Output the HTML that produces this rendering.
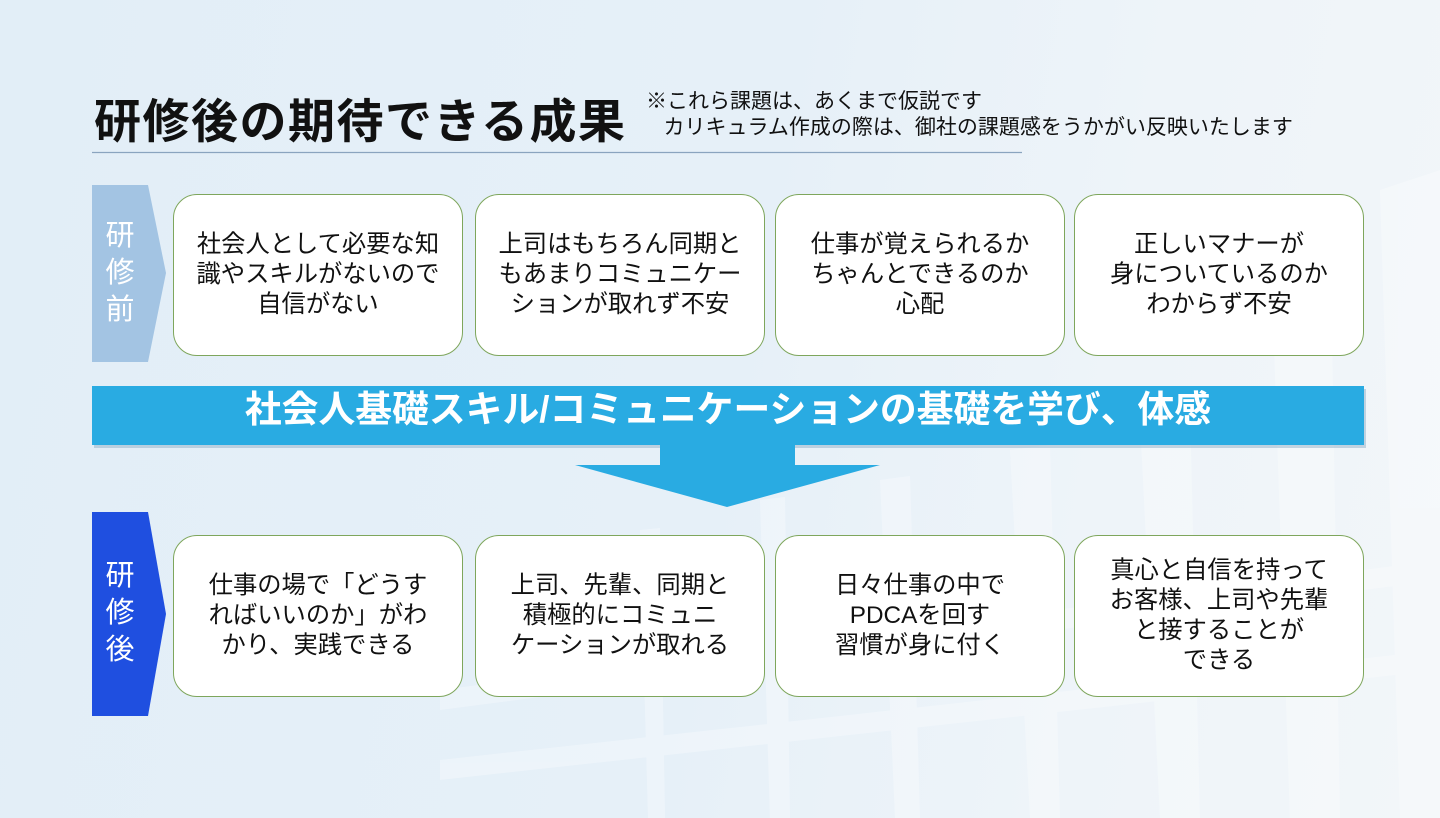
<!DOCTYPE html>
<html><head><meta charset="utf-8"><style>
*{margin:0;padding:0;box-sizing:border-box}
body{width:1440px;height:818px;overflow:hidden;position:relative;font-family:"Liberation Sans","Noto Sans CJK JP",sans-serif;background:linear-gradient(100deg,#e2eef7 0%,#e6f0f8 50%,#eef4f9 75%,#f2f6f9 100%)}
.abs{position:absolute}
.box{position:absolute;width:290px;height:162px;border:1.5px solid #7ea65c;border-radius:24px;background:#fff;display:flex;align-items:center;justify-content:center;text-align:center;font-size:24.3px;line-height:30px;color:#111}
.lab{position:absolute;color:#fff;font-size:29px;line-height:37px;width:58px;text-align:center}
</style></head><body>
<svg class="abs" style="left:0;top:0" width="1440" height="818">
 <g fill="#ffffff" opacity="0.3">
  <polygon points="1380,190 1440,170 1440,818 1400,818"/>
  <polygon points="1270,230 1330,215 1340,818 1290,818"/>
  <polygon points="1140,420 1190,410 1200,818 1160,818"/>
  <polygon points="1010,450 1050,445 1060,818 1030,818"/>
  <polygon points="880,480 910,476 920,818 895,818"/>
  <polygon points="760,500 785,497 790,818 770,818"/>
  <polygon points="640,530 660,528 665,818 648,818"/>
  <polygon points="440,690 1440,560 1440,580 440,710"/>
  <polygon points="440,760 1440,650 1440,670 440,780"/>
 </g>
 <line x1="92" y1="152.5" x2="1022" y2="152.5" stroke="#8aa4bf" stroke-width="1.2"/>
 <polygon points="92,185 148,185 166,273 148,362 92,362" fill="#a3c4e3"/>
 <polygon points="92,512 148,512 166,614 148,716 92,716" fill="#1f4fe0"/>
 <rect x="94" y="389" width="1272" height="59" fill="#8fb0c8" opacity="0.5"/>
 <rect x="92" y="386" width="1272" height="59" fill="#29abe2"/>
 <polygon points="660,445 795,445 795,465 880,465 727,507 575,465 660,465" fill="#29abe2"/>
</svg>
<div class="abs" style="left:94px;top:83px;font-size:47px;font-weight:bold;color:#111;letter-spacing:1.5px;white-space:nowrap">研修後の期待できる成果</div>
<div class="abs" style="left:646px;top:89px;font-size:21px;line-height:26px;color:#111;white-space:nowrap">※これら課題は、あくまで仮説です<br>&nbsp;&nbsp;&nbsp;カリキュラム作成の際は、御社の課題感をうかがい反映いたします</div>
<div class="lab" style="left:91px;top:218px">研<br>修<br>前</div>
<div class="lab" style="left:91px;top:558px">研<br>修<br>後</div>
<div class="abs" style="left:92px;top:388px;width:1272px;text-align:center;color:#fff;font-size:36.8px;font-weight:bold;line-height:44px;white-space:nowrap">社会人基礎スキル/コミュニケーションの基礎を学び、体感</div>
<div class="box" style="left:173px;top:194px">社会人として必要な知<br>識やスキルがないので<br>自信がない</div>
<div class="box" style="left:475px;top:194px">上司はもちろん同期と<br>もあまりコミュニケー<br>ションが取れず不安</div>
<div class="box" style="left:775px;top:194px">仕事が覚えられるか<br>ちゃんとできるのか<br>心配</div>
<div class="box" style="left:1074px;top:194px">正しいマナーが<br>身についているのか<br>わからず不安</div>
<div class="box" style="left:173px;top:535px">仕事の場で「どうす<br>ればいいのか」がわ<br>かり、実践できる</div>
<div class="box" style="left:475px;top:535px">上司、先輩、同期と<br>積極的にコミュニ<br>ケーションが取れる</div>
<div class="box" style="left:775px;top:535px">日々仕事の中で<br>PDCAを回す<br>習慣が身に付く</div>
<div class="box" style="left:1074px;top:535px">真心と自信を持って<br>お客様、上司や先輩<br>と接することが<br>できる</div>
</body></html>
